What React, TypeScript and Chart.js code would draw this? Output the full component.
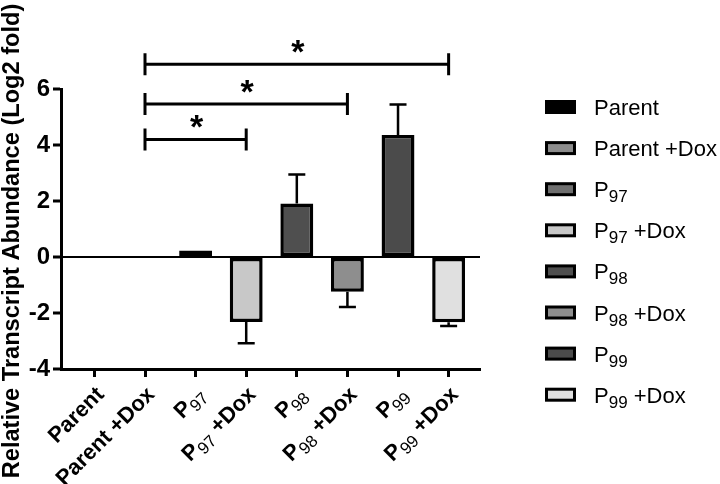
import React, { useEffect, useRef } from "react";
import { Chart, registerables } from "chart.js";

Chart.register(...registerables);

// ---- data ----
const categories = ["Parent", "Parent +Dox", "P97", "P97 +Dox", "P98", "P98 +Dox", "P99", "P99 +Dox"];
const values = [0, 0, 0.23, -2.32, 1.91, -1.24, 4.36, -2.33];
const errors = [0, 0, 0, 0.76, 1.04, 0.55, 1.09, 0.13];
const colors = ["#000000", "#8c8c8c", "#6f6f6f", "#c8c8c8", "#4f4f4f", "#8e8e8e", "#4b4b4b", "#e0e0e0"];
const yMin = -4;
const yMax = 6;
const yStep = 2;
const sigFrom = [1, 1, 1];
const sigTo = [3, 5, 7];
const sigHeight = [4.2, 5.46, 6.88];
const sigLabel = ["*", "*", "*"];
const yTitle = "Relative Transcript Abundance (Log2 fold)";

const FONT = "'Liberation Sans', Arial, Helvetica, sans-serif";

type Seg = { t: string; sub: boolean };
function splitLabel(label: string): Seg[] {
  const m = /^P(\d+)(.*)$/.exec(label);
  if (!m) return [{ t: label, sub: false }];
  const segs: Seg[] = [
    { t: "P", sub: false },
    { t: m[1], sub: true },
  ];
  if (m[2]) segs.push({ t: m[2], sub: false });
  return segs;
}

function drawRich(
  ctx: CanvasRenderingContext2D,
  segs: Seg[],
  x: number,
  y: number,
  align: "left" | "right",
  mainFont: string,
  subFont: string,
  subOffset: number
) {
  const widths = segs.map((s) => {
    ctx.font = s.sub ? subFont : mainFont;
    return ctx.measureText(s.t).width;
  });
  const total = widths.reduce((a, b) => a + b, 0);
  let cx = align === "right" ? x - total : x;
  ctx.textAlign = "left";
  ctx.textBaseline = "alphabetic";
  segs.forEach((s, i) => {
    ctx.font = s.sub ? subFont : mainFont;
    ctx.fillText(s.t, cx, y + (s.sub ? subOffset : 0));
    cx += widths[i];
  });
}

const overlayPlugin = {
  id: "overlay",
  afterDatasetsDraw(chart: any) {
    const ctx: CanvasRenderingContext2D = chart.ctx;
    const xs = chart.scales.x;
    const ys = chart.scales.y;
    ctx.save();
    ctx.strokeStyle = "#000";
    ctx.lineWidth = 2.5;
    values.forEach((v, i) => {
      const e = errors[i];
      if (!e) return;
      const dir = v >= 0 ? 1 : -1;
      const px = xs.getPixelForValue(i);
      const y0 = ys.getPixelForValue(v);
      const y1 = ys.getPixelForValue(v + dir * e);
      ctx.beginPath();
      ctx.moveTo(px, y0);
      ctx.lineTo(px, y1);
      ctx.moveTo(px - 8.5, y1);
      ctx.lineTo(px + 8.5, y1);
      ctx.stroke();
    });
    ctx.restore();
  },
  afterDraw(chart: any) {
    const ctx: CanvasRenderingContext2D = chart.ctx;
    const xs = chart.scales.x;
    const ys = chart.scales.y;
    const area = chart.chartArea;
    ctx.save();
    ctx.fillStyle = "#000";
    ctx.strokeStyle = "#000";

    // significance brackets
    ctx.lineWidth = 3;
    sigFrom.forEach((f, i) => {
      const x1 = xs.getPixelForValue(f);
      const x2 = xs.getPixelForValue(sigTo[i]);
      const y = ys.getPixelForValue(sigHeight[i]);
      ctx.beginPath();
      ctx.moveTo(x1, y);
      ctx.lineTo(x2, y);
      ctx.moveTo(x1, y - 11);
      ctx.lineTo(x1, y + 11);
      ctx.moveTo(x2, y - 11);
      ctx.lineTo(x2, y + 11);
      ctx.stroke();
      ctx.font = `bold 34px ${FONT}`;
      ctx.textAlign = "center";
      ctx.textBaseline = "alphabetic";
      const m = ctx.measureText(sigLabel[i]);
      const cy = y - 18;
      ctx.fillText(
        sigLabel[i],
        (x1 + x2) / 2 + 1,
        cy + (m.actualBoundingBoxAscent - m.actualBoundingBoxDescent) / 2
      );
    });

    // x category labels (rotated)
    categories.forEach((c, i) => {
      const px = xs.getPixelForValue(i);
      ctx.save();
      ctx.translate(px + 5, area.bottom + 21);
      ctx.rotate(-Math.PI / 4);
      drawRich(ctx, splitLabel(c), 0, 8, "right", `bold 22px ${FONT}`, `17px ${FONT}`, 5);
      ctx.restore();
    });

    // y title
    ctx.save();
    ctx.translate(19, 241);
    ctx.rotate(-Math.PI / 2);
    ctx.font = `bold 23.6px ${FONT}`;
    ctx.textAlign = "center";
    ctx.textBaseline = "alphabetic";
    ctx.fillText(yTitle, 0, 0);
    ctx.restore();

    // legend
    categories.forEach((c, i) => {
      const rowY = 107 + i * 41.1;
      ctx.fillStyle = "#000";
      ctx.fillRect(545, rowY - 7, 31, 14);
      ctx.fillStyle = colors[i];
      ctx.fillRect(548, rowY - 4, 25, 8);
      ctx.fillStyle = "#000";
      drawRich(ctx, splitLabel(c), 594, rowY + 8, "left", `22px ${FONT}`, `17px ${FONT}`, 5);
    });
    ctx.restore();
  },
};

export default function App() {
  const ref = useRef<HTMLCanvasElement | null>(null);
  useEffect(() => {
    if (!ref.current) return;
    const chart = new Chart(ref.current, {
      type: "bar",
      data: {
        datasets: [
          {
            data: values.map((v, i) => ({ x: i, y: v })),
            backgroundColor: colors,
            borderColor: "#000",
            borderWidth: 3.5,
            borderSkipped: false,
            categoryPercentage: 1,
            barPercentage: 0.65,
          } as any,
        ],
      },
      options: {
        responsive: false,
        animation: false,
        layout: { padding: { left: 0, top: 89, right: 240, bottom: 0 } },
        plugins: { legend: { display: false }, tooltip: { enabled: false } },
        scales: {
          x: {
            type: "linear",
            min: -0.66,
            max: 7.62,
            offset: false,
            afterFit: (s: any) => {
              s.height = 115;
            },
            ticks: { display: false, stepSize: 1, includeBounds: false } as any,
            grid: {
              display: true,
              offset: false,
              drawOnChartArea: false,
              drawTicks: true,
              tickLength: 8,
              tickWidth: 3,
              tickColor: "#000",
            } as any,
            border: { display: true, color: "#000", width: 3 },
          },
          y: {
            min: yMin,
            max: yMax,
            afterFit: (s: any) => {
              s.width = 61;
            },
            ticks: {
              stepSize: yStep,
              color: "#000",
              padding: 3,
              font: { family: FONT, size: 24, weight: "bold" },
            },
            grid: {
              color: (c: any) => (c.tick && c.tick.value === 0 ? "#000" : "rgba(0,0,0,0)"),
              lineWidth: (c: any) => (c.tick && c.tick.value === 0 ? 2 : 0),
              tickColor: "#000",
              tickWidth: 3,
              tickLength: 8,
            } as any,
            border: { display: true, color: "#000", width: 3 },
          },
        },
      } as any,
      plugins: [overlayPlugin],
    });
    return () => chart.destroy();
  }, []);
  return (
    <div style={{ position: "absolute", left: 0, top: 0, width: 720, height: 484 }}>
      <canvas ref={ref} width={720} height={484} style={{ display: "block" }} />
    </div>
  );
}
